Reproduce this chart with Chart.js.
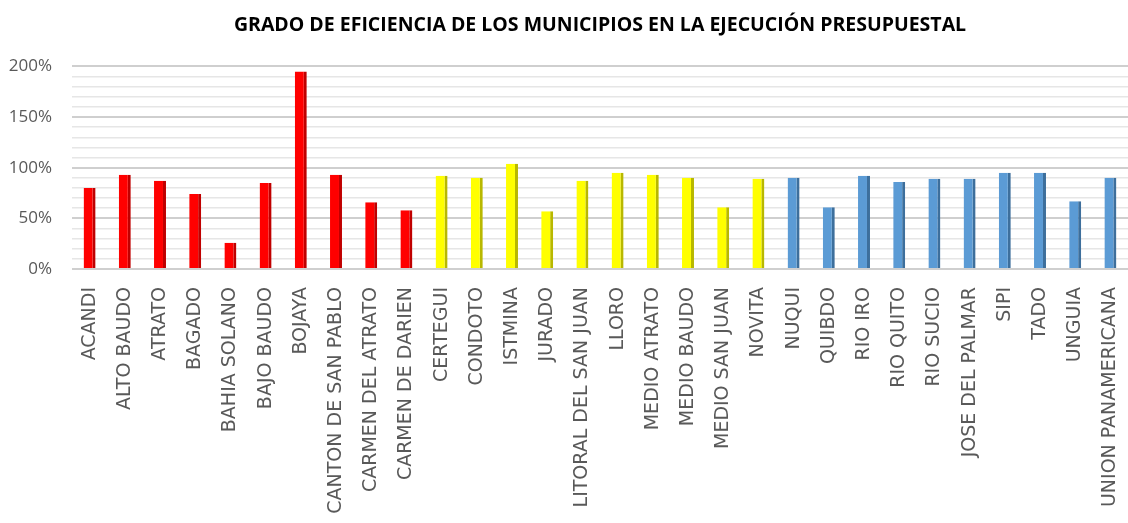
<!DOCTYPE html>
<html>
<head>
<meta charset="utf-8">
<script src="https://cdn.jsdelivr.net/npm/chart.js@4/dist/chart.umd.min.js"></script>
<style>
    html, body { margin: 0; padding: 0; background: #fff; }
    #wrap { width: 1128px; height: 523px; }
</style>
</head>
<body>
<div id="wrap"><canvas id="grafico" width="1128" height="523"></canvas></div>
<script>
const municipios = [
    "ACANDI", "ALTO BAUDO", "ATRATO", "BAGADO", "BAHIA SOLANO", "BAJO BAUDO", "BOJAYA",
    "CANTON DE SAN PABLO", "CARMEN DEL ATRATO", "CARMEN DE DARIEN",
    "CERTEGUI", "CONDOTO", "ISTMINA", "JURADO", "LITORAL DEL SAN JUAN", "LLORO",
    "MEDIO ATRATO", "MEDIO BAUDO", "MEDIO SAN JUAN", "NOVITA",
    "NUQUI", "QUIBDO", "RIO IRO", "RIO QUITO", "RIO SUCIO", "JOSE DEL PALMAR",
    "SIPI", "TADO", "UNGUIA", "UNION PANAMERICANA"
];
const eficiencia = [
    80, 93, 87, 74, 26, 85, 195, 93, 66, 58,
    92, 90, 104, 57, 87, 95, 93, 90, 61, 89,
    90, 61, 92, 86, 89, 89, 95, 95, 67, 90
];
const grupos = [
    "r", "r", "r", "r", "r", "r", "r", "r", "r", "r",
    "y", "y", "y", "y", "y", "y", "y", "y", "y", "y",
    "b", "b", "b", "b", "b", "b", "b", "b", "b", "b"
];
const ticksY = [0, 50, 100, 150, 200];

const relleno = { r: "#ff0000", y: "#ffff00", b: "#5b9bd5" };
const lado = { r: "#c00000", y: "#b8b800", b: "#3d6f9c" };

const ctx = document.getElementById("grafico").getContext("2d");

new Chart(ctx, {
    type: "bar",
    data: {
        labels: municipios,
        datasets: [{
            label: "Eficiencia",
            data: eficiencia,
            backgroundColor: grupos.map(g => relleno[g]),
            borderColor: grupos.map(g => lado[g]),
            borderWidth: { right: 3, top: 0, left: 0, bottom: 0 },
            borderSkipped: false,
            barPercentage: 0.34,
            categoryPercentage: 1,
        }],
    },
    options: {
        responsive: false,
        animation: false,
        layout: { padding: { left: 0, right: 0, top: 0, bottom: 0 } },
        plugins: {
            legend: { display: false },
            tooltip: { enabled: false },
            title: {
                display: true,
                fullSize: false,
                text: "GRADO DE EFICIENCIA DE LOS MUNICIPIOS EN LA EJECUCIÓN PRESUPUESTAL",
                color: "#000",
                font: { family: "Open Sans", size: 19.5, weight: "bold" },
                padding: { top: 14, bottom: 29 },
            },
        },
        scales: {
            x: {
                grid: { display: false },
                border: { display: false },
                ticks: {
                    autoSkip: false,
                    maxRotation: 90,
                    minRotation: 90,
                    padding: 10,
                    color: "#595959",
                    font: { family: "DejaVu Sans", size: 19 },
                },
                afterFit: scale => {
                    scale.height = 254;
                    scale.paddingLeft = 0;
                    scale.paddingRight = 0;
                },
            },
            y: {
                min: 0,
                max: 200,
                border: { display: false },
                grid: {
                    drawTicks: false,
                    color: c => (c.tick.value % 50 === 0 ? "#cfcfcf" : "#e6e6e6"),
                    lineWidth: c => (c.tick.value % 50 === 0 ? 2 : 1.5),
                },
                ticks: {
                    autoSkip: false,
                    stepSize: 10,
                    padding: 20,
                    color: "#595959",
                    font: { family: "Open Sans", size: 17 },
                    callback: v => (ticksY.includes(v) ? v + "%" : ""),
                },
                afterFit: scale => { scale.width = 72; },
            },
        },
    },
});
</script>
</body>
</html>
